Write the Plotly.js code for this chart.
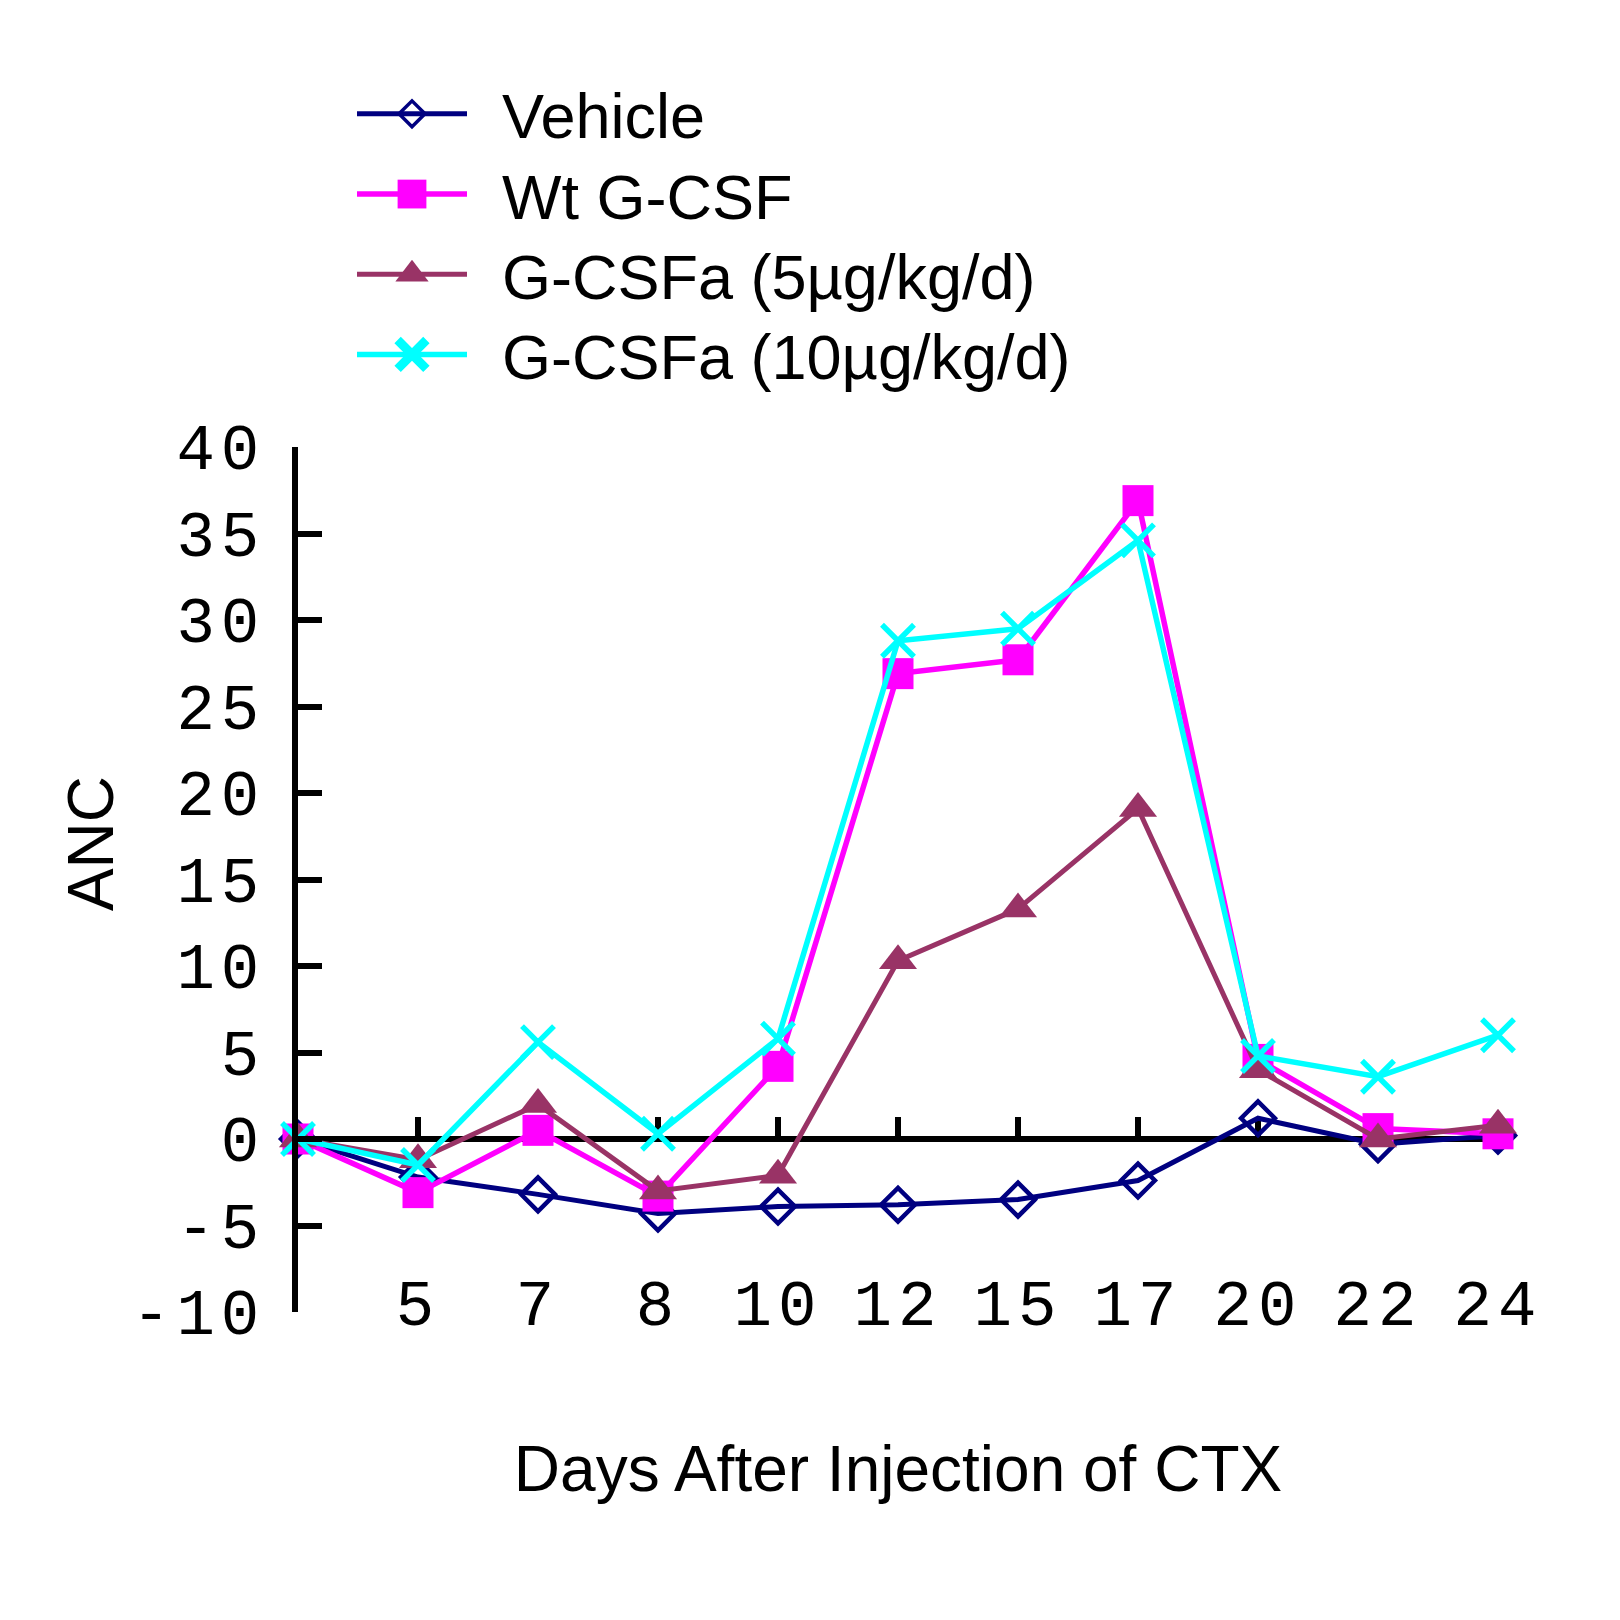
<!DOCTYPE html>
<html>
<head>
<meta charset="utf-8">
<script src="https://cdn.plot.ly/plotly-3.0.1.min.js"></script>
<style>
  html, body { margin: 0; padding: 0; background: #ffffff; }
  #chart { width: 1620px; height: 1620px; }
  .xtick text, .ytick text { letter-spacing: 6px; }
  .legend .legendtext { transform: translateX(30px); }
  .legend g.scrollbox { clip-path: none !important; }
</style>
</head>
<body>
<div id="chart"></div>
<script>
// ---- data ----
const days = ['0', '5', '7', '8', '10', '12', '15', '17', '20', '22', '24'];
const vehicle = [0, -2.2, -3.2, -4.3, -3.9, -3.8, -3.5, -2.4, 1.2, -0.3, 0.2];
const wtGcsf  = [0, -3.1, 0.5, -3.3, 4.2, 26.9, 27.7, 36.9, 4.6, 0.6, 0.3];
const gcsfa5  = [0, -1.2, 2.0, -3.0, -2.1, 10.3, 13.3, 19.1, 4.0, 0.0, 0.8];
const gcsfa10 = [0, -1.5, 5.6, 0.3, 5.8, 28.8, 29.5, 34.6, 4.8, 3.6, 6.0];
const seriesNames = ['Vehicle', 'Wt G-CSF', 'G-CSFa (5\u00b5g/kg/d)', 'G-CSFa (10\u00b5g/kg/d)'];
const yTicks = [-10, -5, 0, 5, 10, 15, 20, 25, 30, 35, 40];
const yTickLabels = ['-10', '-5', '0', '5', '10', '15', '20', '25', '30', '35', '40'];

// evenly spaced category positions
const pos = days.map((d, i) => i);
const labelPos = pos.slice(1);
const labelText = days.slice(1);

const sans = 'Liberation Sans, Arial, sans-serif';
const mono = 'Liberation Mono, Courier New, monospace';

const traces = [
  {
    x: pos, y: vehicle, name: seriesNames[0], type: 'scatter', mode: 'lines+markers',
    line: {color: '#000080', width: 5},
    marker: {symbol: 'diamond-open', size: 26, color: '#000080', line: {width: 4.5, color: '#000080'}},
    cliponaxis: false
  },
  {
    x: pos, y: wtGcsf, name: seriesNames[1], type: 'scatter', mode: 'lines+markers',
    line: {color: '#ff00ff', width: 5.5},
    marker: {symbol: 'square', size: 31, color: '#ff00ff'},
    cliponaxis: false
  },
  {
    x: pos, y: gcsfa5, name: seriesNames[2], type: 'scatter', mode: 'lines+markers',
    line: {color: '#993366', width: 5},
    marker: {symbol: 'triangle-up', size: 33, color: '#993366'},
    cliponaxis: false
  },
  {
    x: pos, y: gcsfa10, name: seriesNames[3], type: 'scatter', mode: 'lines+markers',
    xaxis: 'x2',
    line: {color: '#00ffff', width: 5.5},
    marker: {symbol: 'x-thin', size: 32, color: '#00ffff', line: {width: 5.5, color: '#00ffff'}},
    cliponaxis: false
  }
];

const layout = {
  width: 1620, height: 1620,
  margin: {l: 298, r: 122, t: 447, b: 308, pad: 0},
  paper_bgcolor: '#ffffff', plot_bgcolor: '#ffffff',
  showlegend: true,
  legend: {
    x: 0.045, xanchor: 'left', y: 1.44, yanchor: 'top',
    font: {family: sans, size: 63, color: '#000000'},
    itemwidth: 110, tracegroupgap: 0, bgcolor: 'rgba(0,0,0,0)'
  },
  xaxis: {
    range: [0, 10], anchor: 'free', position: 0.06,
    tickmode: 'array', tickvals: labelPos, ticktext: labelText,
    showline: false, ticks: '', showgrid: false, zeroline: false,
    tickfont: {family: mono, size: 64, color: '#000000'},
    title: {text: 'Days After Injection of CTX', font: {family: sans, size: 64, color: '#000000'}, standoff: 103}
  },
  xaxis2: {
    range: [0, 10], overlaying: 'x', anchor: 'free', position: 0.2,
    tickmode: 'array', tickvals: labelPos, showticklabels: false,
    showline: false, ticks: 'inside', ticklen: 22, tickwidth: 6, tickcolor: '#000000',
    showgrid: false, zeroline: false, layer: 'below traces'
  },
  yaxis: {
    range: [-10, 40], tickmode: 'array', tickvals: yTicks, ticktext: yTickLabels,
    showline: true, linewidth: 6, linecolor: '#000000',
    ticks: 'inside', ticklen: 24, tickwidth: 6, tickcolor: '#000000',
    ticklabelstandoff: 14,
    showgrid: false, zeroline: true, zerolinecolor: '#000000', zerolinewidth: 5.5,
    tickfont: {family: mono, size: 64, color: '#000000'},
    title: {text: 'ANC', font: {family: sans, size: 64, color: '#000000'}, standoff: 0}
  }
};

Plotly.newPlot('chart', traces, layout, {displayModeBar: false, staticPlot: true}).then(function (gd) {
  // enlarge legend symbols (Plotly caps them at 16px)
  gd.querySelectorAll('.legend g.traces').forEach(function (g, i) {
    g.querySelectorAll('.legendpoints path.scatterpts').forEach(function (p) {
      const t = p.getAttribute('transform') || '';
      if (i === 0) {
        p.setAttribute('transform', t + ' scale(1.25)');
        p.style.strokeWidth = '2.8px';
      } else {
        p.setAttribute('transform', t + ' scale(1.8)');
      }
    });
    // tighten legend rows slightly, as in the reference
    const tg = g.getAttribute('transform') || '';
    g.setAttribute('transform', tg + ' translate(0,' + (-4.7 * i) + ')');
  });
  // raise the ANC title a little, as in the reference
  const yt = gd.querySelector('.ytitle');
  if (yt) {
    const t = yt.getAttribute('transform') || '';
    yt.setAttribute('transform', t + ' translate(36,0)');
  }
});
</script>
</body>
</html>
